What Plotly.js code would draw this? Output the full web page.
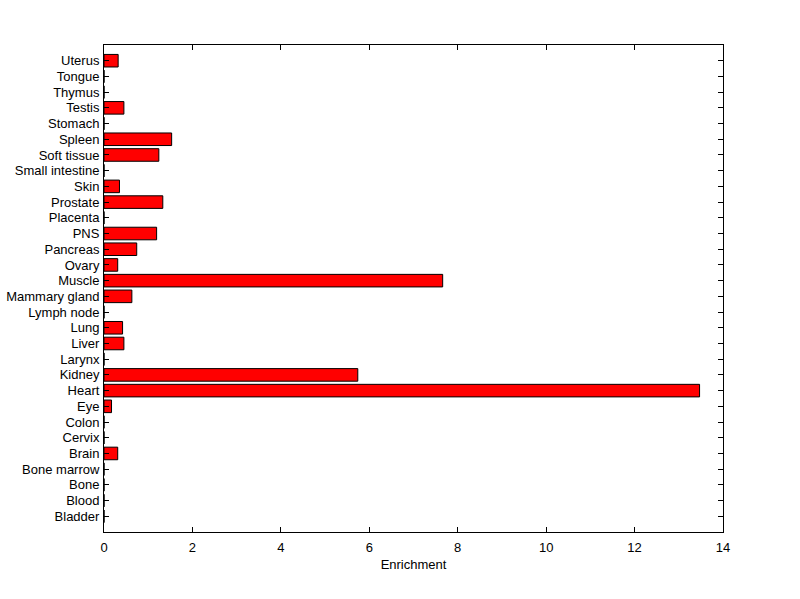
<!DOCTYPE html>
<html>
<head>
<meta charset="utf-8">
<script src="https://cdn.plot.ly/plotly-3.0.1.min.js"></script>
<style>html,body{margin:0;padding:0;background:#fff;}</style>
</head>
<body>
<div id="chart" style="width:800px;height:599px;"></div>
<script>
const tissues = ["Bladder","Blood","Bone","Bone marrow","Brain","Cervix","Colon","Eye","Heart","Kidney","Larynx","Liver","Lung","Lymph node","Mammary gland","Muscle","Ovary","Pancreas","PNS","Placenta","Prostate","Skin","Small intestine","Soft tissue","Spleen","Stomach","Testis","Thymus","Tongue","Uterus"];
const enrichment = [0,0,0,0,0.31,0,0,0.17,13.47,5.74,0,0.45,0.42,0,0.63,7.66,0.31,0.74,1.19,0,1.33,0.35,0,1.24,1.53,0,0.45,0,0,0.32];
const xTicks = [0,2,4,6,8,10,12,14];

const trace = {
  type: 'bar',
  orientation: 'h',
  x: enrichment,
  y: tissues,
  width: 0.8,
  marker: {color: '#ff0000', line: {color: '#000000', width: 1}},
  hoverinfo: 'x+y'
};

const layout = {
  width: 800, height: 599,
  margin: {l: 104, r: 77, t: 45, b: 67, pad: 0},
  paper_bgcolor: '#ffffff',
  plot_bgcolor: '#ffffff',
  showlegend: false,
  font: {family: 'Liberation Sans, Arial, sans-serif', size: 13, color: '#000'},
  xaxis: {
    range: [0, 14],
    tickvals: xTicks,
    ticktext: xTicks.map(String),
    ticks: 'inside', ticklen: 5, tickwidth: 1, tickcolor: '#000',
    showline: true, linecolor: '#000', linewidth: 1, mirror: 'ticks',
    showgrid: false, zeroline: false,
    tickfont: {size: 13},
    ticklabelstandoff: 3,
    title: {text: 'Enrichment', font: {size: 13}, standoff: 6}
  },
  yaxis: {
    type: 'category',
    categoryorder: 'array', categoryarray: tissues,
    range: [-1, 30],
    tickvals: tissues,
    ticks: 'inside', ticklen: 5, tickwidth: 1, tickcolor: '#000',
    showline: true, linecolor: '#000', linewidth: 1, mirror: 'ticks',
    showgrid: false, zeroline: false,
    tickfont: {size: 13},
    ticklabelstandoff: 1
  }
};

Plotly.newPlot('chart', [trace], layout, {staticPlot: true, displayModeBar: false});
</script>
</body>
</html>
